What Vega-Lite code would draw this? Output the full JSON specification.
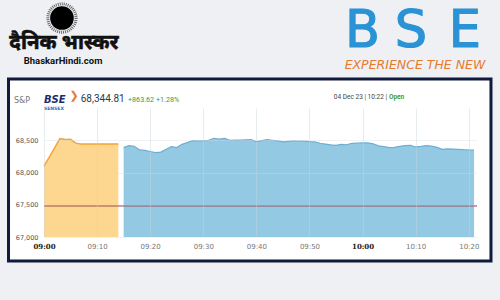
{
  "$schema": "https://vega.github.io/schema/vega-lite/v6.json",
  "width": 433,
  "height": 129,
  "autosize": {"type": "none"},
  "padding": {"left": 44, "top": 108, "right": 23, "bottom": 63},
  "background": "#eef0f4",
  "config": {"view": {"stroke": null}},
  "datasets": {
    "sensex": [
      {"t": "2023-12-04T09:00:00Z", "v": 68100, "s": "pre"},
      {"t": "2023-12-04T09:01:00Z", "v": 68240, "s": "pre"},
      {"t": "2023-12-04T09:02:00Z", "v": 68380, "s": "pre"},
      {"t": "2023-12-04T09:03:00Z", "v": 68525, "s": "pre"},
      {"t": "2023-12-04T09:04:00Z", "v": 68510, "s": "pre"},
      {"t": "2023-12-04T09:05:00Z", "v": 68515, "s": "pre"},
      {"t": "2023-12-04T09:06:00Z", "v": 68455, "s": "pre"},
      {"t": "2023-12-04T09:07:00Z", "v": 68440, "s": "pre"},
      {"t": "2023-12-04T09:08:00Z", "v": 68440, "s": "pre"},
      {"t": "2023-12-04T09:09:00Z", "v": 68440, "s": "pre"},
      {"t": "2023-12-04T09:10:00Z", "v": 68440, "s": "pre"},
      {"t": "2023-12-04T09:11:00Z", "v": 68440, "s": "pre"},
      {"t": "2023-12-04T09:12:00Z", "v": 68440, "s": "pre"},
      {"t": "2023-12-04T09:13:00Z", "v": 68440, "s": "pre"},
      {"t": "2023-12-04T09:14:00Z", "v": 68440, "s": "pre"},
      {"t": "2023-12-04T09:15:00Z", "v": 68386, "s": "open"},
      {"t": "2023-12-04T09:16:00Z", "v": 68417, "s": "open"},
      {"t": "2023-12-04T09:17:00Z", "v": 68407, "s": "open"},
      {"t": "2023-12-04T09:18:00Z", "v": 68350, "s": "open"},
      {"t": "2023-12-04T09:19:00Z", "v": 68343, "s": "open"},
      {"t": "2023-12-04T09:20:00Z", "v": 68325, "s": "open"},
      {"t": "2023-12-04T09:21:00Z", "v": 68307, "s": "open"},
      {"t": "2023-12-04T09:22:00Z", "v": 68317, "s": "open"},
      {"t": "2023-12-04T09:23:00Z", "v": 68360, "s": "open"},
      {"t": "2023-12-04T09:24:00Z", "v": 68401, "s": "open"},
      {"t": "2023-12-04T09:25:00Z", "v": 68386, "s": "open"},
      {"t": "2023-12-04T09:26:00Z", "v": 68437, "s": "open"},
      {"t": "2023-12-04T09:27:00Z", "v": 68464, "s": "open"},
      {"t": "2023-12-04T09:28:00Z", "v": 68495, "s": "open"},
      {"t": "2023-12-04T09:29:00Z", "v": 68490, "s": "open"},
      {"t": "2023-12-04T09:30:00Z", "v": 68494, "s": "open"},
      {"t": "2023-12-04T09:31:00Z", "v": 68500, "s": "open"},
      {"t": "2023-12-04T09:32:00Z", "v": 68531, "s": "open"},
      {"t": "2023-12-04T09:33:00Z", "v": 68517, "s": "open"},
      {"t": "2023-12-04T09:34:00Z", "v": 68530, "s": "open"},
      {"t": "2023-12-04T09:35:00Z", "v": 68500, "s": "open"},
      {"t": "2023-12-04T09:36:00Z", "v": 68503, "s": "open"},
      {"t": "2023-12-04T09:37:00Z", "v": 68502, "s": "open"},
      {"t": "2023-12-04T09:38:00Z", "v": 68506, "s": "open"},
      {"t": "2023-12-04T09:39:00Z", "v": 68510, "s": "open"},
      {"t": "2023-12-04T09:40:00Z", "v": 68480, "s": "open"},
      {"t": "2023-12-04T09:41:00Z", "v": 68495, "s": "open"},
      {"t": "2023-12-04T09:42:00Z", "v": 68510, "s": "open"},
      {"t": "2023-12-04T09:43:00Z", "v": 68500, "s": "open"},
      {"t": "2023-12-04T09:44:00Z", "v": 68490, "s": "open"},
      {"t": "2023-12-04T09:45:00Z", "v": 68474, "s": "open"},
      {"t": "2023-12-04T09:46:00Z", "v": 68482, "s": "open"},
      {"t": "2023-12-04T09:47:00Z", "v": 68490, "s": "open"},
      {"t": "2023-12-04T09:48:00Z", "v": 68488, "s": "open"},
      {"t": "2023-12-04T09:49:00Z", "v": 68485, "s": "open"},
      {"t": "2023-12-04T09:50:00Z", "v": 68478, "s": "open"},
      {"t": "2023-12-04T09:51:00Z", "v": 68474, "s": "open"},
      {"t": "2023-12-04T09:52:00Z", "v": 68453, "s": "open"},
      {"t": "2023-12-04T09:53:00Z", "v": 68440, "s": "open"},
      {"t": "2023-12-04T09:54:00Z", "v": 68427, "s": "open"},
      {"t": "2023-12-04T09:55:00Z", "v": 68422, "s": "open"},
      {"t": "2023-12-04T09:56:00Z", "v": 68437, "s": "open"},
      {"t": "2023-12-04T09:57:00Z", "v": 68430, "s": "open"},
      {"t": "2023-12-04T09:58:00Z", "v": 68453, "s": "open"},
      {"t": "2023-12-04T09:59:00Z", "v": 68455, "s": "open"},
      {"t": "2023-12-04T10:00:00Z", "v": 68458, "s": "open"},
      {"t": "2023-12-04T10:01:00Z", "v": 68458, "s": "open"},
      {"t": "2023-12-04T10:02:00Z", "v": 68445, "s": "open"},
      {"t": "2023-12-04T10:03:00Z", "v": 68412, "s": "open"},
      {"t": "2023-12-04T10:04:00Z", "v": 68400, "s": "open"},
      {"t": "2023-12-04T10:05:00Z", "v": 68386, "s": "open"},
      {"t": "2023-12-04T10:06:00Z", "v": 68391, "s": "open"},
      {"t": "2023-12-04T10:07:00Z", "v": 68405, "s": "open"},
      {"t": "2023-12-04T10:08:00Z", "v": 68417, "s": "open"},
      {"t": "2023-12-04T10:09:00Z", "v": 68422, "s": "open"},
      {"t": "2023-12-04T10:10:00Z", "v": 68396, "s": "open"},
      {"t": "2023-12-04T10:11:00Z", "v": 68405, "s": "open"},
      {"t": "2023-12-04T10:12:00Z", "v": 68417, "s": "open"},
      {"t": "2023-12-04T10:13:00Z", "v": 68408, "s": "open"},
      {"t": "2023-12-04T10:14:00Z", "v": 68390, "s": "open"},
      {"t": "2023-12-04T10:15:00Z", "v": 68360, "s": "open"},
      {"t": "2023-12-04T10:16:00Z", "v": 68365, "s": "open"},
      {"t": "2023-12-04T10:17:00Z", "v": 68363, "s": "open"},
      {"t": "2023-12-04T10:18:00Z", "v": 68360, "s": "open"},
      {"t": "2023-12-04T10:19:00Z", "v": 68354, "s": "open"},
      {"t": "2023-12-04T10:20:00Z", "v": 68350, "s": "open"},
      {"t": "2023-12-04T10:21:00Z", "v": 68348, "s": "open"}
    ],
    "one": [{}]
  },
  "layer": [
    {
      "data": {"name": "one"},
      "mark": {"type": "rect", "fill": "#ffffff", "stroke": "#0f1a3c", "strokeWidth": 3},
      "encoding": {
        "x": {
          "datum": 1701679999000,
          "type": "temporal",
          "scale": {"type": "utc", "domain": [1701680400000, 1701685293000], "nice": false},
          "axis": {
            "title": null,
            "labelExpr": "utcFormat(datum.value, '%H:%M')",
            "values": [1701680400000, 1701681000000, 1701681600000, 1701682200000, 1701682800000, 1701683400000, 1701684000000, 1701684600000, 1701685200000],
            "labelFlush": false,
            "labelOverlap": false,
            "ticks": false,
            "domain": false,
            "labelPadding": 5,
            "labelFontSize": 7,
            "labelFont": {"condition": {"test": "utcminutes(datum.value) === 0", "value": "DejaVu Serif"}, "value": "DejaVu Sans"},
            "labelFontWeight": {"condition": {"test": "utcminutes(datum.value) === 0", "value": "bold"}, "value": "normal"},
            "labelColor": {"condition": {"test": "utcminutes(datum.value) === 0", "value": "#222222"}, "value": "#777777"},
            "grid": true,
            "gridColor": "#c9d3da",
            "gridOpacity": 0.55,
            "gridWidth": 0.8,
            "zindex": 1
          }
        },
        "x2": {"datum": 1701685451000},
        "y": {
          "datum": 69450,
          "type": "quantitative",
          "scale": {"domain": [67000, 69000], "zero": false, "nice": false},
          "axis": {
            "title": null,
            "values": [67000, 67500, 68000, 68500],
            "format": ",d",
            "ticks": false,
            "domain": false,
            "labelPadding": 6,
            "labelFontSize": 6.5,
            "labelFont": "DejaVu Sans",
            "labelColor": "#555555",
            "grid": true,
            "gridColor": "#d5dde2",
            "gridOpacity": 0.45,
            "gridWidth": 0.8,
            "zindex": 1
          }
        },
        "y2": {"datum": 66628}
      }
    },
    {
      "data": {"name": "sensex"},
      "transform": [{"filter": "datum.s === 'pre'"}],
      "mark": {"type": "area", "color": "#fdd690", "opacity": 1, "line": {"color": "#f3a633", "strokeWidth": 1.5}},
      "encoding": {
        "x": {"field": "t", "type": "temporal"},
        "y": {"field": "v", "type": "quantitative"},
        "y2": {"datum": 67000}
      }
    },
    {
      "data": {"name": "sensex"},
      "transform": [{"filter": "datum.s === 'open'"}],
      "mark": {"type": "area", "color": "#94c9e4", "opacity": 1, "line": {"color": "#6eaed2", "strokeWidth": 1.2}},
      "encoding": {
        "x": {"field": "t", "type": "temporal"},
        "y": {"field": "v", "type": "quantitative"},
        "y2": {"datum": 67000}
      }
    },
    {
      "data": {"name": "one"},
      "mark": {"type": "rule", "color": "#9b4c57", "strokeWidth": 1.3},
      "encoding": {"y": {"datum": 67481.19}}
    },
    {
      "data": {"name": "one"},
      "mark": {"type": "point", "shape": "circle", "filled": false, "color": "#333333", "strokeWidth": 3, "strokeDash": [1, 1], "size": 800},
      "encoding": {
        "x": {"datum": 1701680603000, "type": "temporal"},
        "y": {"datum": 70395, "type": "quantitative"}
      }
    },
    {
      "data": {"name": "one"},
      "mark": {"type": "point", "shape": "circle", "filled": true, "color": "#000000", "opacity": 1, "size": 560},
      "encoding": {
        "x": {"datum": 1701680603000, "type": "temporal"},
        "y": {"datum": 70395, "type": "quantitative"}
      }
    },
    {
      "data": {"name": "one"},
      "mark": {"type": "text", "text": "दैनिक भास्कर", "font": "Noto Sans", "fontSize": 20.5, "fontWeight": "bold", "color": "#111111", "stroke": "#111111", "strokeWidth": 0.6, "align": "center", "baseline": "middle"},
      "encoding": {
        "x": {"datum": 1701680626000, "type": "temporal"},
        "y": {"datum": 70008, "type": "quantitative"}
      }
    },
    {
      "data": {"name": "one"},
      "mark": {"type": "text", "text": "BhaskarHindi.com", "font": "Roboto", "fontSize": 9.5, "fontWeight": "bold", "color": "#111111", "align": "center", "baseline": "alphabetic"},
      "encoding": {
        "x": {"datum": 1701680615000, "type": "temporal"},
        "y": {"datum": 69682, "type": "quantitative"}
      }
    },
    {
      "data": {"name": "one"},
      "mark": {"type": "text", "text": "B", "font": "DejaVu Sans", "fontSize": 51, "color": "#2a93d5", "stroke": "#2a93d5", "strokeWidth": 1.2, "align": "center", "baseline": "alphabetic"},
      "encoding": {
        "x": {"datum": 1701684000000, "type": "temporal"},
        "y": {"datum": 69946, "type": "quantitative"}
      }
    },
    {
      "data": {"name": "one"},
      "mark": {"type": "text", "text": "S", "font": "DejaVu Sans", "fontSize": 51, "color": "#2a93d5", "stroke": "#2a93d5", "strokeWidth": 1.2, "align": "center", "baseline": "alphabetic"},
      "encoding": {
        "x": {"datum": 1701684547000, "type": "temporal"},
        "y": {"datum": 69946, "type": "quantitative"}
      }
    },
    {
      "data": {"name": "one"},
      "mark": {"type": "text", "text": "E", "font": "DejaVu Sans", "fontSize": 51, "color": "#2a93d5", "stroke": "#2a93d5", "strokeWidth": 1.2, "align": "center", "baseline": "alphabetic"},
      "encoding": {
        "x": {"datum": 1701685157000, "type": "temporal"},
        "y": {"datum": 69946, "type": "quantitative"}
      }
    },
    {
      "data": {"name": "one"},
      "mark": {"type": "text", "text": "EXPERIENCE THE NEW", "font": "DejaVu Sans", "fontSize": 12.5, "fontStyle": "italic", "color": "#e87a2e", "align": "center", "baseline": "alphabetic"},
      "encoding": {
        "x": {"datum": 1701684592000, "type": "temporal"},
        "y": {"datum": 69605, "type": "quantitative"}
      }
    },
    {
      "data": {"name": "one"},
      "mark": {"type": "text", "text": "S&P", "font": "DejaVu Sans", "fontSize": 8, "color": "#777777", "align": "left", "baseline": "alphabetic"},
      "encoding": {
        "x": {"datum": 1701680061000, "type": "temporal"},
        "y": {"datum": 69078, "type": "quantitative"}
      }
    },
    {
      "data": {"name": "one"},
      "mark": {"type": "text", "text": "BSE", "font": "DejaVu Sans", "fontSize": 10, "fontWeight": "bold", "fontStyle": "italic", "color": "#1d2c6a", "align": "left", "baseline": "alphabetic"},
      "encoding": {
        "x": {"datum": 1701680400000, "type": "temporal"},
        "y": {"datum": 69078, "type": "quantitative"}
      }
    },
    {
      "data": {"name": "one"},
      "mark": {"type": "text", "text": "SENSEX", "font": "DejaVu Sans", "fontSize": 4.5, "fontWeight": "bold", "color": "#3b6bb0", "align": "left", "baseline": "middle"},
      "encoding": {
        "x": {"datum": 1701680400000, "type": "temporal"},
        "y": {"datum": 68985, "type": "quantitative"}
      }
    },
    {
      "data": {"name": "one"},
      "mark": {"type": "text", "text": "❯", "font": "DejaVu Sans", "fontSize": 11, "fontWeight": "bold", "color": "#ea7530", "align": "center", "baseline": "middle"},
      "encoding": {
        "x": {"datum": 1701680739000, "type": "temporal"},
        "y": {"datum": 69186, "type": "quantitative"}
      }
    },
    {
      "data": {"name": "one"},
      "mark": {"type": "text", "text": "68,344.81", "font": "Roboto", "fontSize": 10, "color": "#2b3a4a", "align": "left", "baseline": "alphabetic"},
      "encoding": {
        "x": {"datum": 1701680815000, "type": "temporal"},
        "y": {"datum": 69088, "type": "quantitative"}
      }
    },
    {
      "data": {"name": "one"},
      "mark": {"type": "text", "text": "+863.62 +1.28%", "font": "Roboto", "fontSize": 7.2, "color": "#3c9a3c", "align": "left", "baseline": "alphabetic"},
      "encoding": {
        "x": {"datum": 1701681349000, "type": "temporal"},
        "y": {"datum": 69088, "type": "quantitative"}
      }
    },
    {
      "data": {"name": "one"},
      "mark": {"type": "text", "text": "04 Dec 23 | 10:22 |", "font": "Roboto", "fontSize": 6.5, "color": "#444444", "align": "right", "baseline": "alphabetic"},
      "encoding": {
        "x": {"datum": 1701684276000, "type": "temporal"},
        "y": {"datum": 69140, "type": "quantitative"}
      }
    },
    {
      "data": {"name": "one"},
      "mark": {"type": "text", "text": "Open", "font": "Roboto", "fontSize": 6.5, "fontWeight": "bold", "color": "#3c9a3c", "align": "left", "baseline": "alphabetic"},
      "encoding": {
        "x": {"datum": 1701684298000, "type": "temporal"},
        "y": {"datum": 69140, "type": "quantitative"}
      }
    }
  ]
}
